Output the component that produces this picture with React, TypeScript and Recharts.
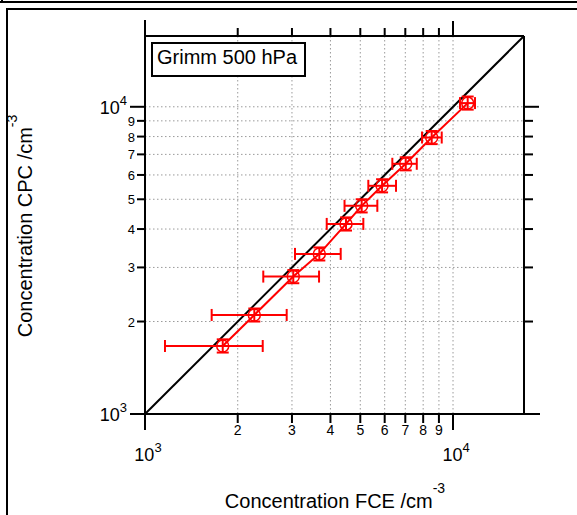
import React from "react";
import { CartesianGrid, ErrorBar, ReferenceLine, Scatter, ScatterChart, XAxis, YAxis } from "recharts";

// FCE reference concentration (x) and CPC concentration (y), cm^-3
const fce = [1788, 2264, 3030, 3681, 4494, 5052, 5884, 7022, 8527, 11160];
const fceLow = [1161, 1646, 2421, 3069, 3890, 4444, 5309, 6353, 7933, 10537];
const fceHigh = [2411, 2884, 3673, 4319, 5115, 5679, 6531, 7627, 9190, 11788];
const cpc = [1665, 2101, 2801, 3320, 4157, 4760, 5531, 6523, 7943, 10280];
const cpcLow = [1585, 2000, 2665, 3160, 3955, 4530, 5265, 6210, 7560, 9790];
const cpcHigh = [1750, 2205, 2940, 3485, 4365, 5000, 5810, 6850, 8340, 10800];

const domain = [1000, 17000];
const ticks = [1000, 2000, 3000, 4000, 5000, 6000, 7000, 8000, 9000, 10000];
const majorExp: Record<number, string> = { 1000: "3", 10000: "4" };
const minorLabel: Record<number, string> = {
  2000: "2", 3000: "3", 4000: "4", 5000: "5", 6000: "6", 7000: "7", 8000: "8", 9000: "9",
};

const rows = fce.map((x, i) => ({
  x,
  y: cpc[i],
  xErr: [x - fceLow[i], fceHigh[i] - x],
  yErr: [cpc[i] - cpcLow[i], cpcHigh[i] - cpc[i]],
}));

const FONT = "'Liberation Sans', Arial, Helvetica, sans-serif";
const RED = "#ff0000";

function BottomTick({ x, y, payload }: any) {
  const v = payload.value;
  const major = v in majorExp;
  return (
    <g>
      <line x1={x} y1={y} x2={x} y2={y + (major ? 16 : 9)} stroke="#000" strokeWidth={2} />
      {major ? (
        <text x={x + 3} y={y + 47} textAnchor="middle" fontSize={18} fontFamily={FONT} fill="#000">
          10<tspan dy={-9} fontSize={13}>{majorExp[v]}</tspan>
        </text>
      ) : (
        <text x={x} y={y + 21} textAnchor="middle" fontSize={14} fontFamily={FONT} fill="#000">
          {minorLabel[v]}
        </text>
      )}
    </g>
  );
}

function LeftTick({ x, y, payload }: any) {
  const v = payload.value;
  const major = v in majorExp;
  return (
    <g>
      <line x1={x} y1={y} x2={x - (major ? 15 : 8)} y2={y} stroke="#000" strokeWidth={2} />
      {major ? (
        <text x={x - 18} y={y + 7} textAnchor="end" fontSize={18} fontFamily={FONT} fill="#000">
          10<tspan dy={-9} fontSize={13}>{majorExp[v]}</tspan>
        </text>
      ) : (
        <text x={x - 10} y={y + 5} textAnchor="end" fontSize={13} fontFamily={FONT} fill="#000">
          {minorLabel[v]}
        </text>
      )}
    </g>
  );
}

function TopTick({ x, y, payload }: any) {
  const major = payload.value in majorExp;
  return <line x1={x} y1={y} x2={x} y2={y - (major ? 15 : 8)} stroke="#000" strokeWidth={2} />;
}

function RightTick({ x, y, payload }: any) {
  const major = payload.value in majorExp;
  return <line x1={x} y1={y} x2={x + (major ? 15 : 9)} y2={y} stroke="#000" strokeWidth={2} />;
}

function Marker({ cx, cy }: any) {
  return <circle cx={cx} cy={cy} r={6} fill="none" stroke={RED} strokeWidth={1.5} />;
}

export default function App() {
  return (
    <div style={{ position: "absolute", left: 0, top: 0, width: 577, height: 515, background: "#fff", overflow: "hidden" }}>
      <ScatterChart width={577} height={515} margin={{ top: 16, right: 33, bottom: 41, left: 85 }}>
        <CartesianGrid stroke="#9a9a9a" strokeDasharray="1.5 2.5" strokeWidth={1} />
        <XAxis
          dataKey="x"
          type="number"
          scale="log"
          domain={domain}
          allowDataOverflow
          ticks={ticks}
          interval={0}
          height={60}
          tickSize={0}
          tickMargin={0}
          tickLine={false}
          axisLine={{ stroke: "#000", strokeWidth: 2 }}
          tick={<BottomTick />}
        />
        <XAxis
          xAxisId="top"
          orientation="top"
          dataKey="x"
          type="number"
          scale="log"
          domain={domain}
          allowDataOverflow
          ticks={ticks}
          interval={0}
          height={20}
          tickSize={0}
          tickMargin={0}
          tickLine={false}
          axisLine={{ stroke: "#000", strokeWidth: 2 }}
          tick={<TopTick />}
        />
        <YAxis
          dataKey="y"
          type="number"
          scale="log"
          domain={domain}
          allowDataOverflow
          ticks={ticks}
          interval={0}
          width={60}
          tickSize={0}
          tickMargin={0}
          tickLine={false}
          axisLine={{ stroke: "#000", strokeWidth: 2 }}
          tick={<LeftTick />}
        />
        <YAxis
          yAxisId="right"
          orientation="right"
          dataKey="y"
          type="number"
          scale="log"
          domain={domain}
          allowDataOverflow
          ticks={ticks}
          interval={0}
          width={20}
          tickSize={0}
          tickMargin={0}
          tickLine={false}
          axisLine={{ stroke: "#000", strokeWidth: 2 }}
          tick={<RightTick />}
        />
        <ReferenceLine
          segment={[
            { x: domain[0], y: domain[0] },
            { x: domain[1], y: domain[1] },
          ]}
          stroke="#000"
          strokeWidth={2}
          ifOverflow="visible"
        />
        <Scatter
          data={rows}
          shape={<Marker />}
          line={{ stroke: RED, strokeWidth: 2 }}
          isAnimationActive={false}
        >
          <ErrorBar dataKey="xErr" direction="x" width={6} stroke={RED} strokeWidth={2} isAnimationActive={false} />
          <ErrorBar dataKey="yErr" direction="y" width={6} stroke={RED} strokeWidth={2} isAnimationActive={false} />
        </Scatter>
      </ScatterChart>

      <svg width={577} height={515} style={{ position: "absolute", left: 0, top: 0, pointerEvents: "none" }}>
        {/* panel frames */}
        <line x1={0} y1={2} x2={577} y2={2} stroke="#000" strokeWidth={2} />
        <line x1={2} y1={0} x2={2} y2={2} stroke="#000" strokeWidth={2} />
        <line x1={6} y1={9} x2={577} y2={9} stroke="#000" strokeWidth={2} />
        <line x1={7} y1={8} x2={7} y2={515} stroke="#000" strokeWidth={2} />
        {/* extended left and bottom axis lines */}
        <line x1={145} y1={20} x2={145} y2={430} stroke="#000" strokeWidth={2} />
        <line x1={130} y1={414} x2={540} y2={414} stroke="#000" strokeWidth={2} />
        {/* legend */}
        <rect x={152} y={43} width={153} height={33} fill="#fff" stroke="#000" strokeWidth={2} />
        <text x={157} y={64} fontSize={20} fontFamily={FONT} fill="#000">Grimm 500 hPa</text>
        {/* axis titles */}
        <text x={335} y={508} textAnchor="middle" fontSize={20} fontFamily={FONT} fill="#000">
          Concentration FCE /cm<tspan dy={-15} fontSize={14}>-3</tspan>
        </text>
        <text transform="translate(32,226) rotate(-90)" textAnchor="middle" fontSize={20} fontFamily={FONT} fill="#000">
          Concentration CPC /cm<tspan dy={-15} fontSize={14}>-3</tspan>
        </text>
      </svg>
    </div>
  );
}
